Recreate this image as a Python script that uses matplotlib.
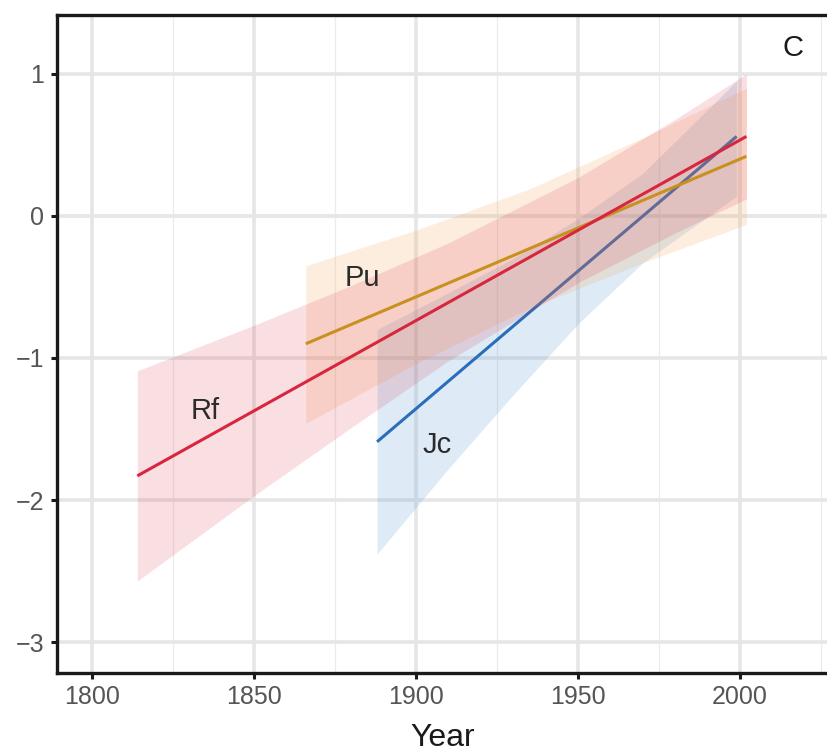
import matplotlib
matplotlib.use("Agg")
import matplotlib.pyplot as plt
from matplotlib.ticker import MultipleLocator

# ---- data ----
rf_line_years = [1814, 2002]
rf_line_vals = [-1.83, 0.56]
rf_band_years = [1814, 1850, 1880, 1910, 1950, 1980, 2002]
rf_lower = [-2.57, -1.97, -1.49, -1.02, -0.47, -0.12, 0.12]
rf_upper = [-1.09, -0.77, -0.49, -0.19, 0.27, 0.68, 1.00]

pu_line_years = [1866, 2002]
pu_line_vals = [-0.90, 0.42]
pu_band_years = [1866, 1900, 1935, 1970, 2002]
pu_lower = [-1.46, -1.04, -0.65, -0.33, -0.06]
pu_upper = [-0.35, -0.10, 0.19, 0.55, 0.90]

jc_line_years = [1888, 1999]
jc_line_vals = [-1.59, 0.56]
jc_band_years = [1888, 1910, 1930, 1950, 1970, 1999]
jc_lower = [-2.38, -1.78, -1.26, -0.76, -0.33, 0.14]
jc_upper = [-0.80, -0.54, -0.30, -0.02, 0.30, 0.95]

labels = ["Rf", "Pu", "Jc"]
label_x = [1835, 1883.5, 1906.5]
label_y = [-1.37, -0.44, -1.61]
x_ticks = [1800, 1850, 1900, 1950, 2000]
y_ticks = [-3, -2, -1, 0, 1]
panel_letter = "C"

# ---- styling ----
plt.rcParams['font.family'] = ['Liberation Sans', 'DejaVu Sans']
red = "#d7263d"
gold = "#c8901e"
blue = "#2a6ebb"

fig = plt.figure(figsize=(8.28, 7.54), dpi=100)
ax = fig.add_axes([57/828, 81/754, 1 - 57/828, (673-15)/754])

ax.set_xlim(1789.2, 2027.2)
ax.set_ylim(-3.218, 1.415)

# grid
ax.set_axisbelow(True)
ax.xaxis.set_minor_locator(MultipleLocator(25))
ax.grid(which='major', color='#e6e6e6', linewidth=2.6)
ax.grid(which='minor', axis='x', color='#ebebeb', linewidth=0.9)

# bands and lines
ax.fill_between(jc_band_years, jc_lower, jc_upper, color="#5a9bd5", alpha=0.2, linewidth=0, zorder=2)
ax.plot(jc_line_years, jc_line_vals, color=blue, linewidth=2.2, solid_capstyle='butt', zorder=3)
ax.fill_between(pu_band_years, pu_lower, pu_upper, color="#f5a04a", alpha=0.18, linewidth=0, zorder=4)
ax.fill_between(rf_band_years, rf_lower, rf_upper, color=red, alpha=0.15, linewidth=0, zorder=5)
ax.plot(pu_line_years, pu_line_vals, color=gold, linewidth=2.2, solid_capstyle='butt', zorder=6)
ax.plot(rf_line_years, rf_line_vals, color=red, linewidth=2.2, solid_capstyle='butt', zorder=7)

for lab, lx, ly in zip(labels, label_x, label_y):
    ax.text(lx, ly, lab, fontsize=21, color='#2b2b2b', ha='center', va='center', zorder=8)
ax.text(2016.5, 1.18, panel_letter, fontsize=21, color='#1a1a1a', ha='center', va='center')

# axes
ax.set_xticks(x_ticks)
ax.set_yticks(y_ticks)
ax.tick_params(which='major', length=4, width=2.2, color='#1a1a1a', labelsize=18,
               labelcolor='#555555', pad=5)
ax.tick_params(which='minor', length=0)
for side in ['left', 'bottom', 'top']:
    ax.spines[side].set_linewidth(2.4)
    ax.spines[side].set_color('#1a1a1a')
ax.spines['right'].set_visible(False)

ax.set_xlabel("Year", fontsize=23, color='#1a1a1a', labelpad=10)

fig.savefig("out.png", dpi=100)
